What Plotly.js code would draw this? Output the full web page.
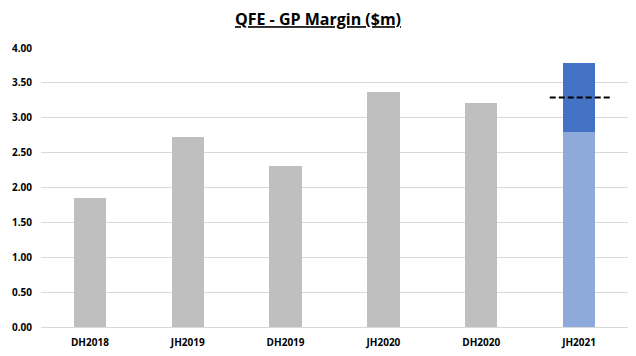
<!DOCTYPE html>
<html>
<head>
<meta charset="utf-8">
<script src="https://cdn.plot.ly/plotly-3.0.1.min.js"></script>
<style>body{margin:0;padding:0;background:#fff}#chart{width:636px;height:356px}</style>
</head>
<body>
<div id="chart"></div>
<script>
const categories = ["DH2018", "JH2019", "DH2019", "JH2020", "DH2020", "JH2021"];
const actualValues = [1.85, 2.72, 2.31, 3.37, 3.21, null];
const baseValues = [null, null, null, null, null, 2.80];
const upliftValues = [null, null, null, null, null, 0.99];
const targetCategoryIndex = 5;
const targetValue = 3.29;
const yTicks = [0, 0.5, 1, 1.5, 2, 2.5, 3, 3.5, 4];

const traces = [
  {type: "bar", x: categories, y: actualValues, marker: {color: "#bfbfbf"}, hoverinfo: "none"},
  {type: "bar", x: categories, y: baseValues, marker: {color: "#8eaadb"}, hoverinfo: "none"},
  {type: "bar", x: categories, y: upliftValues, marker: {color: "#4472c4"}, hoverinfo: "none"}
];

const layout = {
  width: 636, height: 356,
  margin: {l: 41, r: 8, t: 48, b: 29},
  paper_bgcolor: "#ffffff", plot_bgcolor: "#ffffff",
  barmode: "stack", bargap: 0.67,
  showlegend: false,
  title: {text: "<b><u>QFE - GP Margin ($m)</u></b>", x: 0.5, xanchor: "center", y: 0.945, yanchor: "middle",
          font: {family: "Open Sans, Liberation Sans, sans-serif", size: 16, color: "#000000"}},
  xaxis: {type: "category", showgrid: false, showline: true, linecolor: "#d9d9d9", linewidth: 1,
          ticks: "", tickfont: {family: "Open Sans, Liberation Sans, sans-serif", size: 10, color: "#000000", weight: "bold"},
          ticklabelstandoff: 6},
  yaxis: {range: [0, 4], tickvals: yTicks, ticktext: yTicks.map(v => v.toFixed(2)),
          showgrid: true, gridcolor: "#d9d9d9", gridwidth: 1, zeroline: false, showline: false, ticks: "",
          tickfont: {family: "Open Sans, Liberation Sans, sans-serif", size: 10, color: "#000000", weight: "bold"},
          ticklabelstandoff: 8},
  shapes: [{type: "line", xref: "x", yref: "y", x0: targetCategoryIndex - 0.3, x1: targetCategoryIndex + 0.32,
            y0: targetValue, y1: targetValue, line: {color: "#000000", width: 2, dash: "6px,3px"}}]
};

Plotly.newPlot("chart", traces, layout, {displayModeBar: false, staticPlot: true});
</script>
</body>
</html>
